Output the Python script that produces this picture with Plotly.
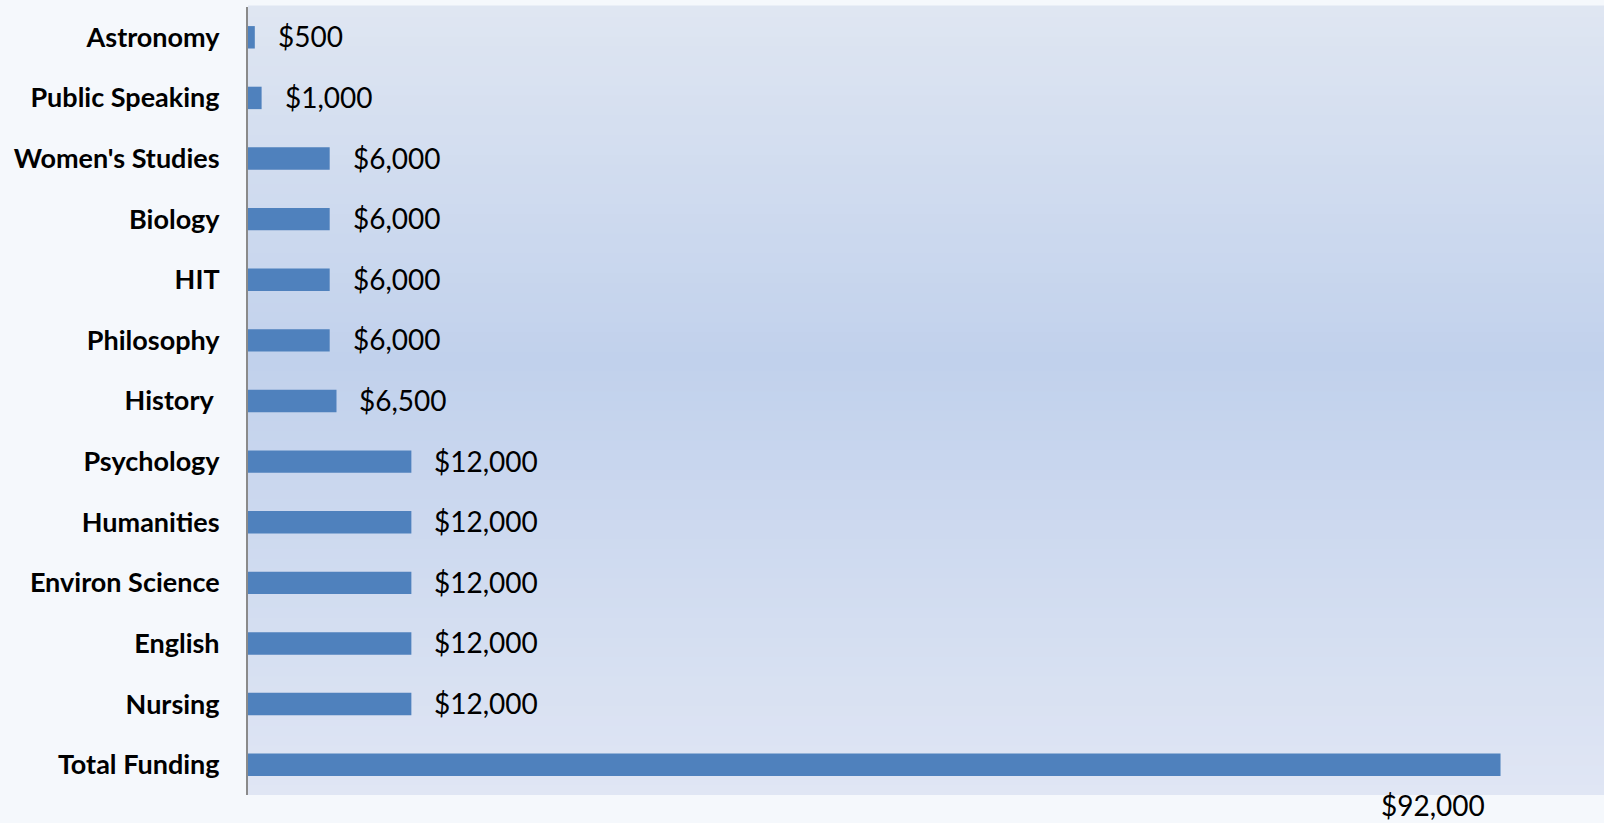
import plotly.graph_objects as go

categories = ["Astronomy", "Public Speaking", "Women's Studies", "Biology", "HIT",
              "Philosophy", "History\u00a0", "Psychology", "Humanities",
              "Environ Science", "English", "Nursing", "Total Funding"]
values = [500, 1000, 6000, 6000, 6000, 6000, 6500, 12000, 12000, 12000, 12000, 12000, 92000]
value_labels = ["$500", "$1,000", "$6,000", "$6,000", "$6,000", "$6,000", "$6,500",
                "$12,000", "$12,000", "$12,000", "$12,000", "$12,000", "$92,000"]

BAR_COLOR = "#4f81bd"

fig = go.Figure()
fig.add_trace(go.Bar(
    x=values, y=categories, orientation="h",
    marker=dict(color=BAR_COLOR, line=dict(width=0)),
    hoverinfo="skip",
))

# value labels
annotations = []
for cat, v, lab in zip(categories, values, value_labels):
    if cat == "Total Funding":
        annotations.append(dict(x=v, y=cat, xref="x", yref="y", text=lab,
                                showarrow=False, xanchor="right", yanchor="middle",
                                xshift=-14, yshift=-40,
                                font=dict(family="Lato", size=28, color="#000000")))
    else:
        annotations.append(dict(x=v, y=cat, xref="x", yref="y", text=lab,
                                showarrow=False, xanchor="left", yanchor="middle",
                                xshift=21, yshift=1,
                                font=dict(family="Lato", size=28, color="#000000")))

# vertical gradient in plot area using thin bands
def lerp(c1, c2, t):
    return tuple(round(a + (b - a) * t) for a, b in zip(c1, c2))

stops = [(0.0, (224, 230, 244)), (0.55, (193, 209, 236)), (1.0, (223, 230, 242))]
shapes = []
n = 80
for i in range(n):
    y0 = i / n
    y1 = (i + 1) / n
    ym = (y0 + y1) / 2
    for (p0, c0), (p1, c1) in zip(stops[:-1], stops[1:]):
        if p0 <= ym <= p1:
            col = lerp(c0, c1, (ym - p0) / (p1 - p0))
            break
    shapes.append(dict(type="rect", xref="paper", yref="paper", x0=0, x1=1,
                       y0=y0, y1=y1 + 0.002, fillcolor="rgb(%d,%d,%d)" % col,
                       line=dict(width=0), layer="below"))

fig.update_layout(
    width=1604, height=823,
    margin=dict(l=248, r=0, t=7, b=28),
    paper_bgcolor="#f5f8fc",
    plot_bgcolor="#d5dff0",
    showlegend=False,
    bargap=0.63,
    shapes=shapes,
    annotations=annotations,
    xaxis=dict(range=[0, 99600], showgrid=False, zeroline=False, showticklabels=False,
               showline=False, ticks=""),
    yaxis=dict(categoryorder="array", categoryarray=categories, autorange="reversed",
               showgrid=False, zeroline=False, showline=True, linecolor="#8a8a8a",
               linewidth=2, ticks="", ticklabelstandoff=21,
               tickfont=dict(family="Lato", size=27, color="#000000", weight=700)),
)

fig.write_html("out.html", config={"displayModeBar": False},
               post_script="document.body.style.margin='0';document.body.style.overflow='hidden';")
